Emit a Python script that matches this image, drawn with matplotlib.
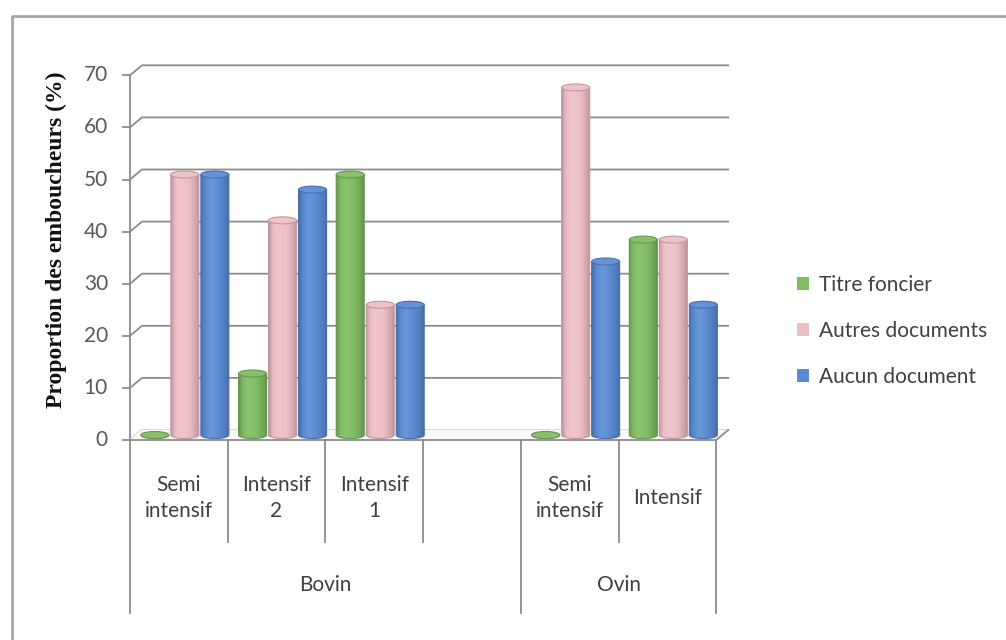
import numpy as np
import matplotlib
matplotlib.use("Agg")
import matplotlib.pyplot as plt
from matplotlib.patches import Ellipse, Patch, PathPatch
from matplotlib.path import Path
from matplotlib.lines import Line2D
from matplotlib.colors import to_rgb

# categories (one empty slot separates the two groups)
categories = ["Semi\nintensif", "Intensif\n2", "Intensif\n1", "", "Semi\nintensif", "Intensif"]
groups = ["Bovin", "Ovin"]
group_spans = [(0, 4), (4, 6)]

series = ["Titre foncier", "Autres documents", "Aucun document"]
titre_foncier = [0.0, 11.8, 50.0, None, 0.0, 37.5]
autres_documents = [50.0, 41.2, 25.0, None, 66.7, 37.5]
aucun_document = [50.0, 47.1, 25.0, None, 33.3, 25.0]
values = [titre_foncier, autres_documents, aucun_document]
colors = ["#80bd63", "#edbfc5", "#5b8bd3"]

yticks = [0, 10, 20, 30, 40, 50, 60, 70]

FONT = "Lato"
FS = 15

W, H = 1006, 640
PX_X = 97.7     # pixels per category slot
PX_Y = 5.21     # pixels per percent
DX = 12 / PX_X  # depth of the 3d box
DY = 10 / PX_Y

fig = plt.figure(figsize=(W / 100, H / 100), dpi=100)
ax = fig.add_axes([130 / W, 200 / H, 6.2 * PX_X / W, 72 * PX_Y / H])
ax.set_xlim(0, 6.2)
ax.set_ylim(0, 72)
ax.axis("off")

grid_c = "#8c8c8c"
# back wall gridlines + side wall slants + ticks
for v in yticks:
    ax.plot([0, DX, 6 + DX], [v, v + DY, v + DY], color=grid_c, lw=1.3, clip_on=False, zorder=1)
    ax.plot([-7 / PX_X, 0], [v, v], color=grid_c, lw=1.3, clip_on=False, zorder=1)
    ax.text(-22 / PX_X, v, str(v), ha="right", va="center", fontsize=FS,
            family=FONT, color="#595959")
ax.plot([0, 0], [0, 70], color=grid_c, lw=1.3, clip_on=False, zorder=1)
# floor
ax.fill([0, 6, 6 + DX, DX], [0, 0, DY, DY], color="#f9f9f9", zorder=1)
ax.plot([0, 6, 6 + DX], [0, 0, DY], color=grid_c, lw=1.3, clip_on=False, zorder=1)


def shade(c, f):
    c = np.array(to_rgb(c))
    if f >= 1:
        return c + (1 - c) * (f - 1)
    return c * f


def cylinder(xc, w, y0, y1, color, eh):
    # body gradient clipped to rectangle + rounded bottom
    t = np.linspace(np.pi, 0, 40)
    bx = xc + w / 2 * np.cos(t)
    by = y0 - eh / 2 * np.sin(t)
    verts = [(xc - w / 2, y1)] + list(zip(bx, by)) + [(xc + w / 2, y1), (xc - w / 2, y1)]
    codes = [Path.MOVETO] + [Path.LINETO] * (len(verts) - 2) + [Path.CLOSEPOLY]
    clip = PathPatch(Path(verts, codes), fc="none", ec=shade(color, 0.8), lw=0.8, zorder=4)
    ax.add_patch(clip)
    prof = np.interp(np.linspace(0, 1, 60), [0, 0.12, 0.35, 0.65, 0.9, 1],
                     [0.8, 0.96, 1.1, 1.0, 0.87, 0.78])
    img = np.array([[shade(color, f) for f in prof]])
    im = ax.imshow(np.clip(img, 0, 1), extent=[xc - w / 2, xc + w / 2, y0 - eh, y1],
                   aspect="auto", zorder=3, interpolation="bilinear")
    im.set_clip_path(clip)
    ax.add_patch(Ellipse((xc, y1), w, eh, fc=shade(color, 1.06), ec=shade(color, 0.8),
                         lw=0.8, zorder=5))


bw = 28 / PX_X
step = 30 / PX_X
eh = 7 / PX_Y
for i in range(len(categories)):
    for j in range(len(series)):
        v = values[j][i]
        if v is None:
            continue
        xc = i + 0.5 + DX / 2 + (j - 1) * step
        cylinder(xc, bw, DY / 2, DY / 2 + v, colors[j], eh)

ax.set_xlim(0, 6.2)
ax.set_ylim(0, 72)

# two-level category axis
y_short = -(542 - 440) / PX_Y
y_long = -(613 - 440) / PX_Y
for k in range(1, 6):
    if k != 4:
        ax.plot([k, k], [0, y_short], color=grid_c, lw=1.3, clip_on=False)
for k in [0, 4, 6]:
    ax.plot([k, k], [0, y_long], color=grid_c, lw=1.3, clip_on=False)
for i, lab in enumerate(categories):
    ax.text(i + 0.5, -(498 - 440) / PX_Y, lab, ha="center", va="center", fontsize=FS,
            family=FONT, color="#404040", linespacing=1.35)
for g, (a, b) in zip(groups, group_spans):
    ax.text((a + b) / 2, -(585 - 440) / PX_Y, g, ha="center", va="center", fontsize=FS,
            family=FONT, color="#404040")

fig.text(56 / W, 1 - 240 / H, "Proportion des emboucheurs (%)", rotation=90,
         ha="center", va="center", fontsize=17, fontweight="bold",
         family="Liberation Serif", color="#111111")

handles = [Patch(fc=c, ec="none") for c in colors]
fig.legend(handles, series, loc="center left", bbox_to_anchor=(778 / W, 1 - 331 / H),
           frameon=False, prop={"family": FONT, "size": FS}, labelcolor="#404040",
           handlelength=0.6, handleheight=0.6, handletextpad=0.45, labelspacing=1.25)

# outer chart border
fig.add_artist(Line2D([12 / W, 12 / W, 1], [0, 1 - 16 / H, 1 - 16 / H],
                      transform=fig.transFigure, color="#a6a6a6", lw=2))

fig.savefig("out.png", dpi=100)
